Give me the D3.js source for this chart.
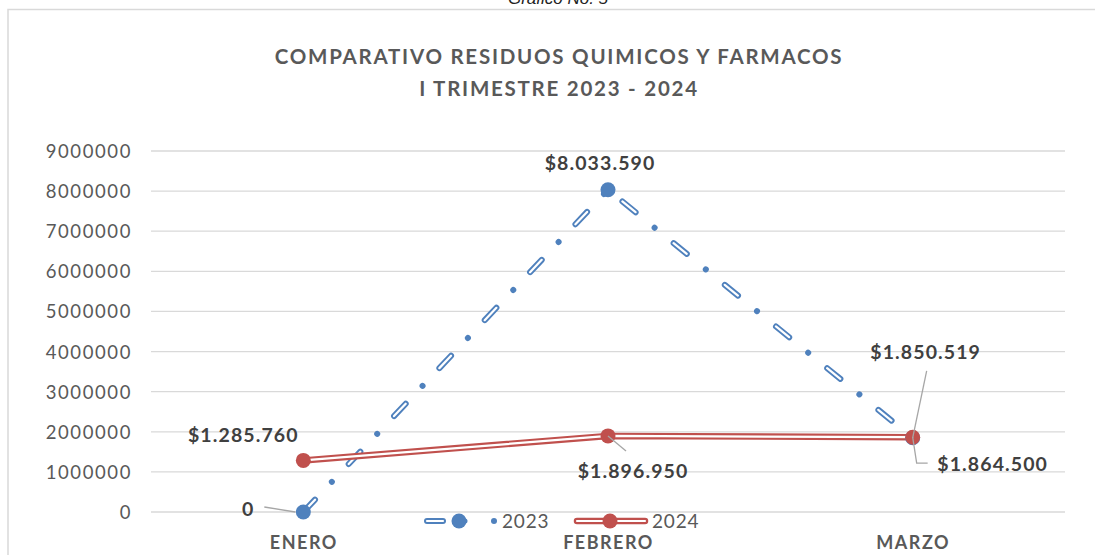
<!DOCTYPE html>
<html>
<head>
<meta charset="utf-8">
<script src="https://cdn.jsdelivr.net/npm/d3@7"></script>
<style>
  html, body { margin: 0; padding: 0; background: #fff; }
  svg { display: block; font-family: Lato, "Open Sans", sans-serif; }
</style>
</head>
<body>
<svg id="chart" width="1095" height="555"></svg>
<script>
// Monthly totals, first quarter
const months = ["ENERO", "FEBRERO", "MARZO"];
const values2023 = [0, 8033590, 1850519];
const values2024 = [1285760, 1896950, 1864500];
const yTicks = [0, 1000000, 2000000, 3000000, 4000000, 5000000, 6000000, 7000000, 8000000, 9000000];
const seriesNames = ["2023", "2024"];
const titleLines = ["COMPARATIVO RESIDUOS QUIMICOS Y FARMACOS", "I TRIMESTRE 2023 - 2024"];
const caption = "Gráfico No. 5";

const BLUE = "#4F81BD", RED = "#C0504D", GRID = "#d9d9d9", TXT = "#595959", LBL = "#404040";

const svg = d3.select("#chart");

// chart frame
svg.append("path")
  .attr("d", "M8,555 L8,9.5 L1095,9.5")
  .attr("fill", "none").attr("stroke", GRID).attr("stroke-width", 1.5);

svg.append("text")
  .attr("x", 558).attr("y", 4)
  .attr("text-anchor", "middle")
  .attr("font-style", "italic").attr("font-size", 17).attr("fill", "#222")
  .attr("font-family", "Liberation Sans, Arial, sans-serif")
  .text(caption);

svg.selectAll("text.title").data(titleLines).join("text")
  .attr("class", "title")
  .attr("x", 559).attr("y", (d, i) => 64 + i * 32)
  .attr("text-anchor", "middle")
  .attr("font-weight", "bold").attr("font-size", 20.5).attr("fill", TXT)
  .attr("letter-spacing", 1.75)
  .text(d => d);

const x = d3.scalePoint().domain(months).range([151, 1065]).padding(0.5);
const y = d3.scaleLinear().domain([0, 9000000]).range([512, 151]);

// gridlines + value axis
const yAxis = d3.axisLeft(y).tickValues(yTicks).tickFormat(d3.format("d")).tickSize(0).tickPadding(0);
const gy = svg.append("g").attr("transform", "translate(132,0)").call(yAxis);
gy.select(".domain").remove();
gy.selectAll("text").attr("font-size", 18.5).attr("fill", TXT).attr("dy", "0.35em")
  .attr("letter-spacing", 1.6)
  .attr("font-family", "Lato, sans-serif");

svg.append("g").selectAll("line").data(yTicks).join("line")
  .attr("x1", 151).attr("x2", 1065)
  .attr("y1", d => y(d)).attr("y2", d => y(d))
  .attr("stroke", GRID).attr("stroke-width", 1.3);

// category axis
const xAxis = d3.axisBottom(x).tickSize(0).tickPadding(0);
const gx = svg.append("g").attr("transform", "translate(0,549)").call(xAxis);
gx.select(".domain").remove();
gx.selectAll("text").attr("font-size", 18).attr("font-weight", "bold").attr("fill", TXT)
  .attr("letter-spacing", 1.5)
  .attr("dy", 0).attr("font-family", "Lato, sans-serif");

const line = d3.line().x((d, i) => x(months[i])).y(d => y(d));

// 2023: double line, dash-dot
svg.append("path").datum(values2023)
  .attr("d", line).attr("fill", "none")
  .attr("stroke", BLUE).attr("stroke-width", 6)
  .attr("stroke-linecap", "round")
  .attr("stroke-dasharray", "17,24.5,0.01,24.5");
svg.append("path").datum(values2023)
  .attr("d", line).attr("fill", "none")
  .attr("stroke", "#fff").attr("stroke-width", 2.2)
  .attr("stroke-linecap", "round")
  .attr("stroke-dasharray", "17,49");

// 2024: double line, solid
svg.append("path").datum(values2024)
  .attr("d", line).attr("fill", "none")
  .attr("stroke", RED).attr("stroke-width", 6.5);
svg.append("path").datum(values2024)
  .attr("d", line).attr("fill", "none")
  .attr("stroke", "#fff").attr("stroke-width", 2.2);

// markers
svg.append("g").selectAll("circle").data(values2023).join("circle")
  .attr("cx", (d, i) => x(months[i])).attr("cy", d => y(d)).attr("r", 7.5)
  .attr("fill", BLUE);
svg.append("g").selectAll("circle").data(values2024).join("circle")
  .attr("cx", (d, i) => x(months[i])).attr("cy", d => y(d)).attr("r", 7.5)
  .attr("fill", RED);

// data labels
const money = v => v === 0 ? "0" : "$" + d3.format(",")(v).replace(/,/g, ".");
const labels = [
  { v: values2023[0], i: 0, dx: -55, dy: 4, leader: [[-39, -5], [-8, 0]] },
  { v: values2023[1], i: 1, dx: -8, dy: -20 },
  { v: values2023[2], i: 2, dx: 13, dy: -79, leader: [[14, -67], [0, 0]] },
  { v: values2024[0], i: 0, dx: -60, dy: -18 },
  { v: values2024[1], i: 1, dx: 25, dy: 42, leader: [[0, 0], [18, 15]] },
  { v: values2024[2], i: 2, dx: 80, dy: 34, leader: [[0, 0], [4, 26], [15, 26]] }
];
const lg = svg.append("g");
labels.forEach(l => {
  const px = x(months[l.i]), py = y(l.v);
  if (l.leader) {
    lg.append("path")
      .attr("d", d3.line()(l.leader.map(p => [px + p[0], py + p[1]])))
      .attr("fill", "none").attr("stroke", "#a6a6a6").attr("stroke-width", 1.3);
  }
  lg.append("text")
    .attr("x", px + l.dx).attr("y", py + l.dy)
    .attr("text-anchor", "middle")
    .attr("font-size", 19.5).attr("font-weight", "bold").attr("fill", LBL)
    .attr("letter-spacing", 1.1)
    .text(money(l.v));
});

// legend
const leg = svg.append("g").attr("transform", "translate(0,521)");
// 2023 sample: dash, marker, dot
leg.append("line").attr("x1", 427).attr("x2", 443).attr("y1", 0).attr("y2", 0)
  .attr("stroke", BLUE).attr("stroke-width", 6).attr("stroke-linecap", "round");
leg.append("line").attr("x1", 427).attr("x2", 443).attr("y1", 0).attr("y2", 0)
  .attr("stroke", "#fff").attr("stroke-width", 2.2).attr("stroke-linecap", "round");
leg.append("circle").attr("cx", 465).attr("cy", 0).attr("r", 2.5).attr("fill", BLUE);
leg.append("circle").attr("cx", 459).attr("cy", 0).attr("r", 7.5).attr("fill", BLUE);
leg.append("circle").attr("cx", 494).attr("cy", 0).attr("r", 3).attr("fill", BLUE);
leg.append("text").attr("x", 502).attr("y", 0).attr("dy", "0.35em")
  .attr("font-size", 19).attr("fill", TXT).attr("letter-spacing", 0.8).text(seriesNames[0]);
// 2024 sample
leg.append("line").attr("x1", 577).attr("x2", 645).attr("y1", 0).attr("y2", 0)
  .attr("stroke", RED).attr("stroke-width", 6.5).attr("stroke-linecap", "round");
leg.append("line").attr("x1", 577).attr("x2", 645).attr("y1", 0).attr("y2", 0)
  .attr("stroke", "#fff").attr("stroke-width", 2.2).attr("stroke-linecap", "round");
leg.append("circle").attr("cx", 610).attr("cy", 0).attr("r", 7.5).attr("fill", RED);
leg.append("text").attr("x", 652).attr("y", 0).attr("dy", "0.35em")
  .attr("font-size", 19).attr("fill", TXT).attr("letter-spacing", 0.8).text(seriesNames[1]);
</script>
</body>
</html>
